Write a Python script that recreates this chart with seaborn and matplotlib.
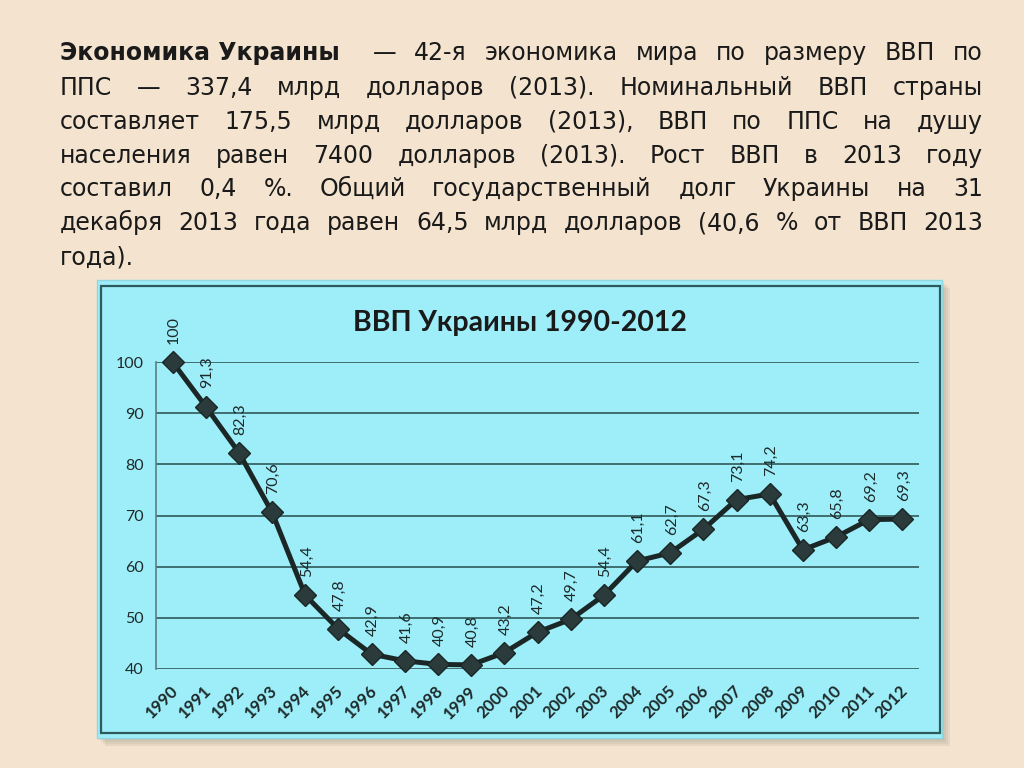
import numpy as np
import pandas as pd
import matplotlib
matplotlib.use("Agg")
import matplotlib.pyplot as plt
import seaborn as sns
from matplotlib.patches import Rectangle

years = list(range(1990, 2013))
gdp = [100, 91.3, 82.3, 70.6, 54.4, 47.8, 42.9, 41.6, 40.9, 40.8, 43.2, 47.2,
       49.7, 54.4, 61.1, 62.7, 67.3, 73.1, 74.2, 63.3, 65.8, 69.2, 69.3]
y_ticks = [40, 50, 60, 70, 80, 90, 100]
title = "ВВП Украины 1990-2012"
para_lines = [
    [("Экономика Украины", True), ("  —", False), ("42-я", False), ("экономика", False),
     ("мира", False), ("по", False), ("размеру", False), ("ВВП", False), ("по", False)],
    "ППС — 337,4 млрд долларов (2013). Номинальный ВВП страны",
    "составляет 175,5 млрд долларов (2013), ВВП по ППС на душу",
    "населения равен 7400 долларов (2013). Рост ВВП в 2013 году",
    "составил 0,4 %. Общий государственный долг Украины на 31",
    "декабря 2013 года равен 64,5 млрд долларов (40,6 % от ВВП 2013",
    "года).",
]

sns.set_theme(style="white")
plt.rcParams['font.family'] = ['Lato', 'DejaVu Sans']

W, H = 1024, 768
fig = plt.figure(figsize=(W / 100, H / 100), dpi=100)
fig.patch.set_facecolor("#F4E4CF")

def fx(x):
    return x / W

def fy(y):
    return 1 - y / H

# shadow of chart panel
for i, a in enumerate([0.10, 0.10, 0.10, 0.12]):
    d = 2 + i * 2
    fig.patches.append(Rectangle((fx(97 + d), fy(738 + d)), fx(845), (738 - 280) / H,
                                 transform=fig.transFigure, facecolor="#7f7f74",
                                 edgecolor="none", alpha=a, zorder=0))
# cyan panel
fig.patches.append(Rectangle((fx(97), fy(738)), fx(845), (738 - 280) / H,
                             transform=fig.transFigure, facecolor="#9DEEF9",
                             edgecolor="#8fd8e0", lw=1, zorder=1))
fig.patches.append(Rectangle((fx(101), fy(733)), fx(839), (733 - 286) / H,
                             transform=fig.transFigure, facecolor="none",
                             edgecolor="#2E5A5C", lw=1.6, zorder=2))

# chart axes
ax = fig.add_axes([fx(156), fy(669), fx(919 - 156), (669 - 362) / H])
ax.set_facecolor("none")
ax.set_zorder(3)
df = pd.DataFrame({"year": years, "gdp": gdp})
sns.lineplot(data=df, x="year", y="gdp", ax=ax, color="#1B2626", lw=3.6,
             marker="D", markersize=11, markerfacecolor="#2B3B3B",
             markeredgecolor="#1B2626", markeredgewidth=1, zorder=5, clip_on=False)
ax.set_xlim(years[0] - 0.5, years[-1] + 0.5)
ax.set_ylim(y_ticks[0], y_ticks[-1])
ax.set_yticks(y_ticks)
ax.set_yticklabels([str(v) for v in y_ticks], fontsize=11.5, color="#1E2A2A")
ax.set_xticks(years)
ax.set_xticklabels([str(y) for y in years], rotation=45, ha="right", va="top",
                   rotation_mode="anchor", fontsize=12, fontweight="bold", color="#1E2A2A")
ax.tick_params(axis="both", length=0)
ax.tick_params(axis="y", pad=9)
ax.tick_params(axis="x", pad=10)
for t in ax.get_xticklabels():
    t.set_transform(t.get_transform() + matplotlib.transforms.ScaledTranslation(-3 / 100, 0, fig.dpi_scale_trans))
ax.grid(axis="y", color="#3F6E70", lw=1.4)
ax.grid(axis="x", visible=False)
for s in ["top", "right", "bottom"]:
    ax.spines[s].set_visible(False)
ax.spines["left"].set_color("#5B7E80")
ax.spines["left"].set_linewidth(1.2)
ax.set_xlabel("")
ax.set_ylabel("")
for yr, v in zip(years, gdp):
    ax.annotate(f"{v:g}".replace(".", ","), (yr, v), xytext=(1, 13),
                textcoords="offset points", rotation=90, ha="center", va="bottom",
                fontsize=11.5, color="#1E2A2A", zorder=6)

fig.text(fx(520), fy(323), title, ha="center", va="center", fontsize=20.5,
         fontweight="bold", color="#1A1A1A", zorder=4)

# justified paragraph
left, right = 60, 983
baselines = [60, 95, 129, 163, 196, 230, 265]
renderer = fig.canvas.get_renderer()
para_font = ['DejaVu Sans']
for li, line in enumerate(para_lines):
    if isinstance(line, str):
        toks = [(w, False) for w in line.split(" ")]
    else:
        toks = line
    texts = []
    for w, b in toks:
        t = fig.text(0, fy(baselines[li]), w, family=para_font, fontsize=17,
                     fontweight="bold" if b else "normal", color="#1A1A1A",
                     ha="left", va="baseline")
        texts.append(t)
    widths = [t.get_window_extent(renderer).width for t in texts]
    if li == len(para_lines) - 1:
        gap = 7
    else:
        gap = (right - left - sum(widths)) / (len(texts) - 1)
    x = left
    for t, w in zip(texts, widths):
        t.set_x(fx(x))
        x += w + gap

fig.savefig("out.png", dpi=100, facecolor=fig.get_facecolor())
